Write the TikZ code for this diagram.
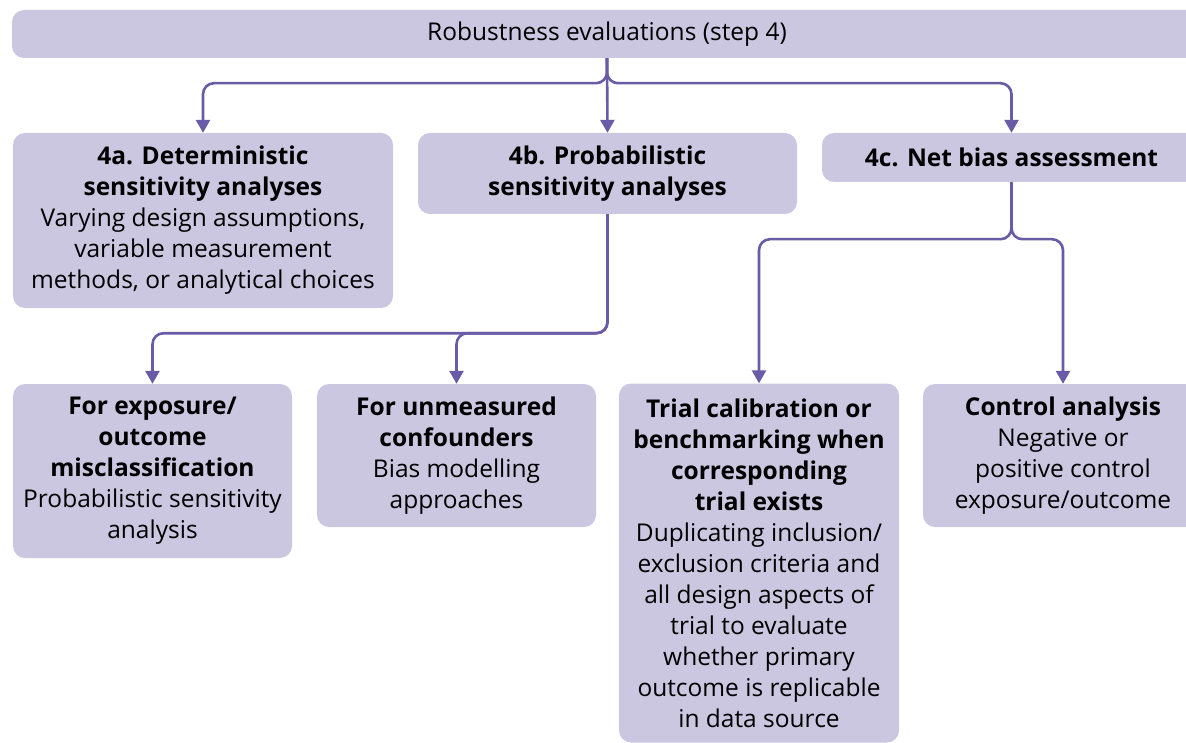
\documentclass[tikz,border=0pt]{standalone}
\usepackage{fontspec}
\setmainfont{Open Sans}
\usetikzlibrary{arrows.meta}
\definecolor{boxfill}{RGB}{204,199,225}
\definecolor{arrowc}{RGB}{106,91,166}
\begin{document}
\begin{tikzpicture}[x=1pt,y=-1pt]
\tikzset{
  box/.style={fill=boxfill, rounded corners=12pt, align=center, inner sep=0pt,
    font=\fontsize{24.5}{31}\selectfont},
  conn/.style={draw=arrowc, line width=2.6pt, rounded corners=11pt},
  tip/.style={-{Triangle[length=13pt,width=14pt]}}
}
\useasboundingbox (0,0) rectangle (1186,743);
\fill[white] (0,0) rectangle (1186,743);
\node[box, minimum width=1190pt, minimum height=48pt] (top) at (607,34) {Robustness evaluations (step 4)};
\node[box, minimum width=380pt, minimum height=175pt] (a) at (203,220.5)
  {\textbf{4a. Deterministic}\\\textbf{sensitivity analyses}\\Varying design assumptions,\\variable measurement\\methods, or analytical choices};
\node[box, minimum width=379pt, minimum height=81pt] (b) at (607.5,173.5)
  {\textbf{4b. Probabilistic}\\\textbf{sensitivity analyses}};
\node[box, minimum width=379pt, minimum height=49pt] (c) at (1011.5,157.5)
  {\textbf{4c. Net bias assessment}};
\node[box, minimum width=279pt, minimum height=174pt] (exp) at (152.5,471)
  {\textbf{For exposure/}\\\textbf{outcome}\\\textbf{misclassification}\\Probabilistic sensitivity\\analysis};
\node[box, minimum width=279pt, minimum height=143pt] (unm) at (456.5,455.5)
  {\textbf{For unmeasured}\\\textbf{confounders}\\Bias modelling\\approaches};
\node[box, minimum width=280pt, minimum height=359pt] (trial) at (759,563)
  {\textbf{Trial calibration or}\\\textbf{benchmarking when}\\\textbf{corresponding}\\\textbf{trial exists}\\Duplicating inclusion/\\exclusion criteria and\\all design aspects of\\trial to evaluate\\whether primary\\outcome is replicable\\in data source};
\node[box, minimum width=280pt, minimum height=143pt] (ctrl) at (1063,455.5)
  {\textbf{Control analysis}\\Negative or\\positive control\\exposure/outcome};
\draw[conn,tip] (top.south) -- ++(0,25) -| (a.north);
\draw[conn,tip] (top.south) -- ++(0,25) -| (c.north);
\draw[conn,tip] (top.south) -- (b.north);
\draw[conn,tip] (b.south) -- ++(0,119) -| (exp.north);
\draw[conn,tip] (b.south) -- ++(0,119) -| (unm.north);
\draw[conn,tip] (c.south) -- ++(0,57) -| (trial.north);
\draw[conn,tip] (c.south) -- ++(0,57) -| (ctrl.north);
\end{tikzpicture}
\end{document}
